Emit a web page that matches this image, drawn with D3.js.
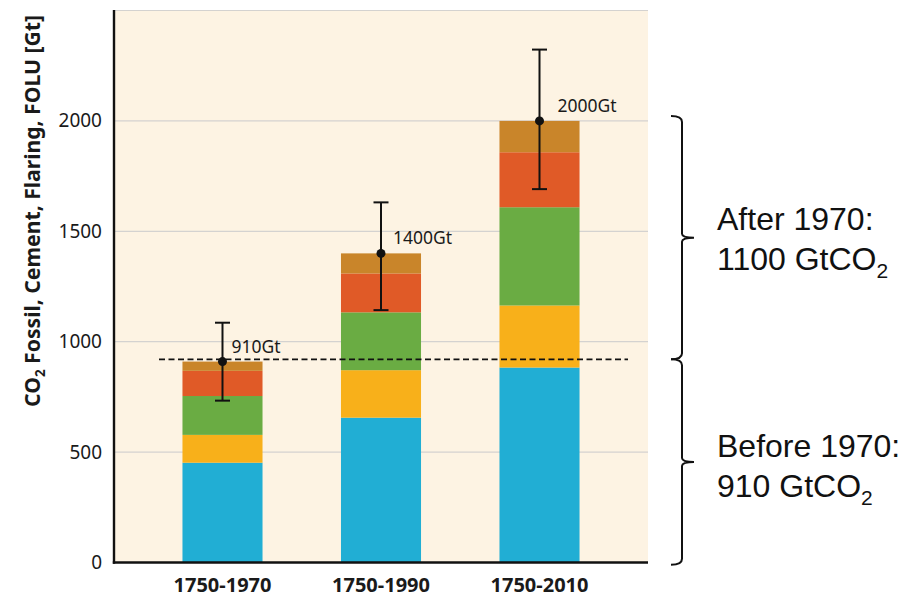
<!DOCTYPE html>
<html>
<head>
<meta charset="utf-8">
<script src="https://cdn.jsdelivr.net/npm/d3@7"></script>
<style>
  html, body { margin: 0; padding: 0; background: #ffffff; }
  svg { display: block; }
</style>
</head>
<body>
<svg id="chart" width="904" height="599"></svg>
<script>
// Cumulative CO2 emissions (Gt) by period, stacked by component
const categories = ["1750-1970", "1750-1990", "1750-2010"];
const layerKeys = ["layer1", "layer2", "layer3", "layer4", "layer5"];
const layer1 = [452, 656, 883];
const layer2 = [126, 215, 281];
const layer3 = [176, 262, 445];
const layer4 = [114, 176, 249];
const layer5 = [42, 91, 142];
const totals = [910, 1400, 2000];
const totalLabels = ["910Gt", "1400Gt", "2000Gt"];
const errLow = [733, 1143, 1691];
const errHigh = [1086, 1631, 2323];
const yTicks = [0, 500, 1000, 1500, 2000];
const gridTicks = [500, 1000, 1500, 2000, 2500];
const thresholdValue = 920;
// bracket spans on the value axis: [bottom, top]
const braceAfter = [920, 2022];
const braceBefore = [-10, 920];

const layerColors = ["#21aed4", "#f8b01a", "#6aac43", "#e05a27", "#c9852a"];
const labelDx = [9, 12, 18];

const svg = d3.select("#chart");
const plotLeft = 114, plotRight = 648, plotTop = 10.5, plotBottom = 562.5;

const x = d3.scaleBand()
  .domain(categories)
  .range([plotLeft, plotRight])
  .paddingInner(0.495)
  .paddingOuter(0.432);

const y = d3.scaleLinear().domain([0, 2500]).range([plotBottom, plotTop]);

// plot background
svg.append("rect")
  .attr("x", plotLeft).attr("y", plotTop)
  .attr("width", plotRight - plotLeft).attr("height", plotBottom - plotTop)
  .attr("fill", "#fdf3e3");

// grid lines
svg.append("g").selectAll("line").data(gridTicks).join("line")
  .attr("x1", plotLeft).attr("x2", plotRight)
  .attr("y1", d => y(d)).attr("y2", d => y(d))
  .attr("stroke", "#d4d2d0").attr("stroke-width", 1.2);

// stacked bars
const table = categories.map((c, i) => ({
  cat: c,
  layer1: layer1[i], layer2: layer2[i], layer3: layer3[i],
  layer4: layer4[i], layer5: layer5[i]
}));
const series = d3.stack().keys(layerKeys)(table);

svg.append("g").selectAll("g").data(series).join("g")
  .attr("fill", (d, i) => layerColors[i])
  .selectAll("rect").data(d => d).join("rect")
  .attr("x", d => x(d.data.cat))
  .attr("width", x.bandwidth())
  .attr("y", d => y(d[1]))
  .attr("height", d => y(d[0]) - y(d[1]));

// dashed reference line
svg.append("line")
  .attr("x1", 159).attr("x2", 628)
  .attr("y1", y(thresholdValue)).attr("y2", y(thresholdValue))
  .attr("stroke", "#111").attr("stroke-width", 1.6)
  .attr("stroke-dasharray", "6,3.5");

// error bars with central points
const eb = svg.append("g").attr("stroke", "#111").attr("stroke-width", 2);
categories.forEach((c, i) => {
  const cx = x(c) + x.bandwidth() / 2;
  eb.append("line").attr("x1", cx).attr("x2", cx)
    .attr("y1", y(errLow[i])).attr("y2", y(errHigh[i]));
  [errLow[i], errHigh[i]].forEach(v => {
    eb.append("line").attr("x1", cx - 7.5).attr("x2", cx + 7.5)
      .attr("y1", y(v)).attr("y2", y(v));
  });
  svg.append("circle").attr("cx", cx).attr("cy", y(totals[i])).attr("r", 4.5)
    .attr("fill", "#111");
  svg.append("text")
    .attr("x", cx + labelDx[i]).attr("y", y(totals[i]) - 9)
    .attr("font-family", "'Noto Sans', sans-serif")
    .attr("font-size", 17.5).attr("fill", "#1a1a1a")
    .text(totalLabels[i]);
});

// axis lines
svg.append("line").attr("x1", plotLeft).attr("x2", plotLeft)
  .attr("y1", plotTop - 0.5).attr("y2", plotBottom + 1.2)
  .attr("stroke", "#111").attr("stroke-width", 2.4);
svg.append("line").attr("x1", plotLeft - 1.2).attr("x2", plotRight)
  .attr("y1", plotBottom).attr("y2", plotBottom)
  .attr("stroke", "#111").attr("stroke-width", 2.6);

// y tick labels
const yAxis = svg.append("g")
  .attr("transform", `translate(${plotLeft},0)`)
  .call(d3.axisLeft(y).tickValues(yTicks).tickSize(0).tickPadding(12).tickFormat(d3.format("d")));
yAxis.select(".domain").remove();
yAxis.selectAll("text")
  .attr("font-family", "'Noto Sans', sans-serif")
  .attr("font-size", 19).attr("fill", "#1a1a1a");

// x category labels
svg.append("g").selectAll("text").data(categories).join("text")
  .attr("x", d => x(d) + x.bandwidth() / 2)
  .attr("y", 592)
  .attr("text-anchor", "middle")
  .attr("font-family", "'Noto Sans', sans-serif")
  .attr("font-weight", "bold")
  .attr("font-size", 20).attr("fill", "#1a1a1a")
  .text(d => d);

// y axis title
const yt = svg.append("text")
  .attr("transform", "translate(40,211) rotate(-90)")
  .attr("text-anchor", "middle")
  .attr("font-family", "'Noto Sans', sans-serif")
  .attr("font-weight", "bold")
  .attr("font-size", 22).attr("fill", "#1a1a1a")
  .attr("textLength", 392).attr("lengthAdjust", "spacingAndGlyphs");
yt.append("tspan").text("CO");
yt.append("tspan").attr("font-size", 14).attr("dy", 5).text("2");
yt.append("tspan").attr("dy", -5).text(" Fossil, Cement, Flaring, FOLU [Gt]");

// curly brackets on the right
function bracePath(v0, v1) {
  const xs = 682, hookL = 671, tipR = 694;
  const yt0 = y(v1), yb0 = y(v0), ym = (yt0 + yb0) / 2;
  return `M${hookL},${yt0} Q${xs},${yt0} ${xs},${yt0 + 6}` +
    ` L${xs},${ym - 4} Q${xs},${ym} ${tipR},${ym}` +
    ` Q${xs},${ym} ${xs},${ym + 4}` +
    ` L${xs},${yb0 - 6} Q${xs},${yb0} ${hookL},${yb0}`;
}
[braceAfter, braceBefore].forEach(b => {
  svg.append("path").attr("d", bracePath(b[0], b[1]))
    .attr("fill", "none").attr("stroke", "#111").attr("stroke-width", 2);
});

// bracket annotations
function annot(yBase, line1, line2num) {
  const g = svg.append("g")
    .attr("font-family", "'Liberation Sans', Arial, sans-serif")
    .attr("font-size", 32).attr("fill", "#111");
  g.append("text").attr("x", 717).attr("y", yBase).text(line1);
  const t = g.append("text").attr("x", 717).attr("y", yBase + 40);
  t.append("tspan").text(line2num + " GtCO");
  t.append("tspan").attr("font-size", 21).attr("dy", 8).text("2");
}
annot(230, "After 1970:", "1100");
annot(457, "Before 1970:", "910");
</script>
</body>
</html>
